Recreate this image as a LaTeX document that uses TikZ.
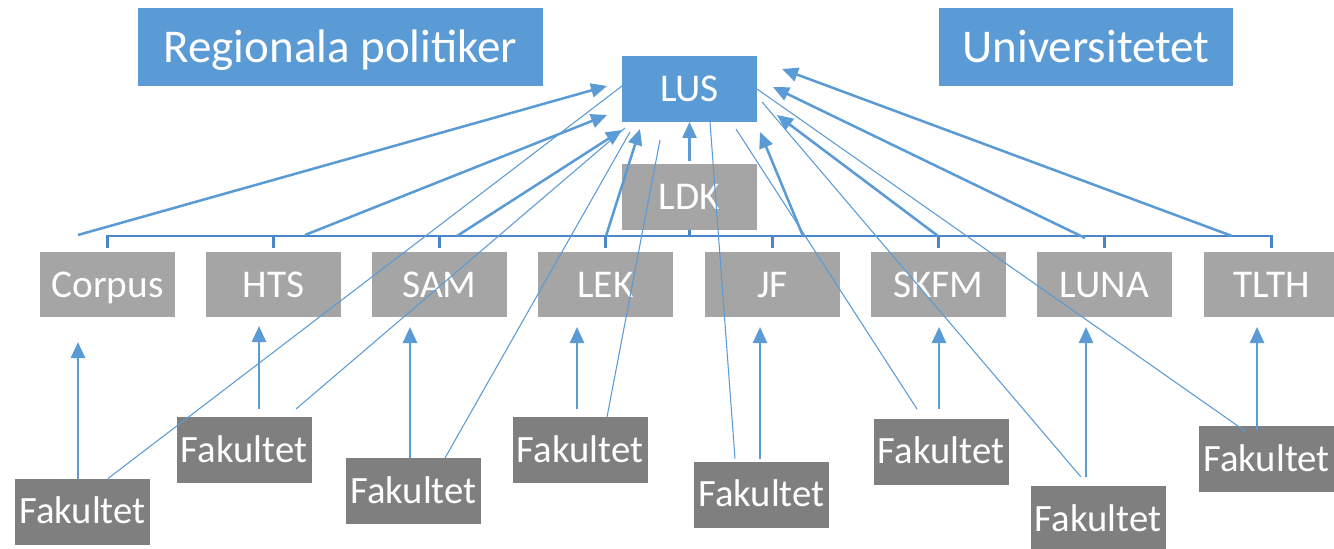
\documentclass[tikz,border=0pt]{standalone}
\usepackage{fontspec}
\setmainfont{Carlito}
\usetikzlibrary{arrows.meta,calc}
\definecolor{lblue}{HTML}{5B9BD5}
\definecolor{busblue}{HTML}{4A86C8}
\definecolor{mgray}{HTML}{A5A5A5}
\definecolor{dgray}{HTML}{7F7F7F}
\begin{document}
\begin{tikzpicture}[x=0.75pt,y=-0.75pt,
  base/.style={rectangle,inner sep=0pt,outer sep=0pt,text=white,text depth=0pt},
  topbox/.style={base,fill=lblue,minimum height=58.5pt,font=\fontsize{35.25}{40}\selectfont,text height=22.7pt},
  lusbox/.style={base,fill=lblue,minimum width=101.25pt,minimum height=49.5pt,font=\fontsize{29.5}{34}\selectfont,text height=19pt},
  midbox/.style={base,fill=mgray,minimum width=101.25pt,minimum height=48.75pt,font=\fontsize{29.5}{34}\selectfont,text height=19pt},
  fakbox/.style={base,fill=dgray,minimum width=101.25pt,minimum height=49.5pt,font=\fontsize{29}{34}\selectfont,text height=18.7pt},
  thick arrow/.style={draw=lblue,line width=1.9pt,-{Triangle[length=12pt,width=10.5pt]}},
  thin link/.style={draw=lblue,line width=0.8pt},
  bus/.style={draw=busblue,line width=2.2pt,shorten >=3pt}]
\useasboundingbox (0,0) rectangle (1334,549);

% top level
\node[topbox,minimum width=303.75pt] (reg) at (340.5,47) {Regionala politiker};
\node[topbox,minimum width=220.5pt] (uni) at (1086,47) {Universitetet};
\node[lusbox] (lus) at (689.5,89) {LUS};
\node[midbox,minimum height=49.5pt] (ldk) at (689.5,197) {LDK};

% middle row
\node[midbox] (corpus) at (107.5,284.5) {Corpus};
\node[midbox] (hts) at (273.5,284.5) {HTS};
\node[midbox] (sam) at (439.5,284.5) {SAM};
\node[midbox] (lek) at (605.5,284.5) {LEK};
\node[midbox] (jf) at (772.5,284.5) {JF};
\node[midbox] (skfm) at (938.5,284.5) {SKFM};
\node[midbox] (luna) at (1104.5,284.5) {LUNA};
\node[midbox] (tlth) at (1271.5,284.5) {TLTH};

% faculties
\node[fakbox] (f1) at (82.5,511.5) {Fakultet};
\node[fakbox] (f2) at (244,450) {Fakultet};
\node[fakbox] (f3) at (413.5,491) {Fakultet};
\node[fakbox] (f4) at (580,450) {Fakultet};
\node[fakbox] (f5) at (761.5,494.5) {Fakultet};
\node[fakbox] (f6) at (941,451.5) {Fakultet};
\node[fakbox] (f7) at (1098,519) {Fakultet};
\node[fakbox] (f8) at (1266.5,459) {Fakultet};

% org bus from LDK
\foreach \c in {corpus,hts,sam,lek,jf,skfm,luna,tlth}
  \draw[bus] (ldk.south) -- ++(0,6) -| (\c.north);

% faculty -> unit arrows
\draw[thick arrow] ($(f1.north)+(-4.5,0)$) -- ($(corpus.south)+(-29.5,25)$);
\draw[thick arrow] ($(f2.north)+(15,-8)$) -- ($(hts.south)+(-14.5,9)$);
\draw[thick arrow] ($(f3.north)+(-3.5,0)$) -- ($(sam.south)+(-29.5,10)$);
\draw[thick arrow] ($(f4.north)+(-3,-8)$) -- ($(lek.south)+(-28.5,10)$);
\draw[thick arrow] ($(f5.north)+(-1.5,-3)$) -- ($(jf.south)+(-12.5,10)$);
\draw[thick arrow] ($(f6.north)+(-2,-9.5)$) -- ($(skfm.south)+(0.5,10)$);
\draw[thick arrow] ($(f7.north)+(-12,-9)$) -- ($(luna.south)+(-18.5,10)$);
\draw[thick arrow] ($(f8.north)+(-9.5,4)$) -- ($(tlth.south)+(-14.5,10)$);

% thin faculty -> LUS lines
\draw[thin link] ($(f1.north)+(25.5,0)$) -- ($(lus.west)+(0,-3)$);
\draw[thin link] ($(f2.north)+(52,-8)$) -- ($(lus.south west)+(3,6)$);
\draw[thin link] ($(f3.north)+(31.5,0)$) -- ($(lus.south west)+(8,10)$);
\draw[thin link] ($(f4.north)+(27,0)$) -- ($(lus.south)+(-29.5,18)$);
\draw[thin link] ($(f5.north)+(-26.5,-3)$) -- ($(lus.south)+(20.5,0)$);
\draw[thin link] ($(f6.north)+(-24,-9.5)$) -- ($(lus.south)+(46.5,7)$);
\draw[thin link] ($(f7.north)+(-17,-9)$) -- ($(lus.east)+(5,13)$);
\draw[thin link] ($(f8.north)+(-21.5,5)$) -- (lus.east);

% unit -> LUS arrows
\draw[thick arrow] ($(corpus.north)+(-29.5,-17)$) -- ($(lus.west)+(-15,-3)$);
\draw[thick arrow] ($(hts.north)+(31.5,-17)$) -- ($(lus.west)+(-15,26)$);
\draw[thick arrow] ($(sam.north)+(17.5,-16)$) -- ($(lus.south west)+(0,8)$);
\draw[thick arrow] ($(lek.north)+(0.5,-16)$) -- ($(lus.south west)+(18,7)$);
\draw[thick arrow] ($(ldk.north)+(0,-3)$) -- (lus.south);
\draw[thick arrow] ($(jf.north)+(30.5,-16)$) -- ($(lus.south east)+(3,10)$);
\draw[thick arrow] ($(skfm.north)+(-0.5,-16)$) -- ($(lus.east)+(20,26)$);
\draw[thick arrow] ($(luna.north)+(-19.5,-14)$) -- ($(lus.east)+(16,-2)$);
\draw[thick arrow] ($(tlth.north)+(-39.5,-16)$) -- ($(lus.east)+(25,-20)$);
\end{tikzpicture}
\end{document}
